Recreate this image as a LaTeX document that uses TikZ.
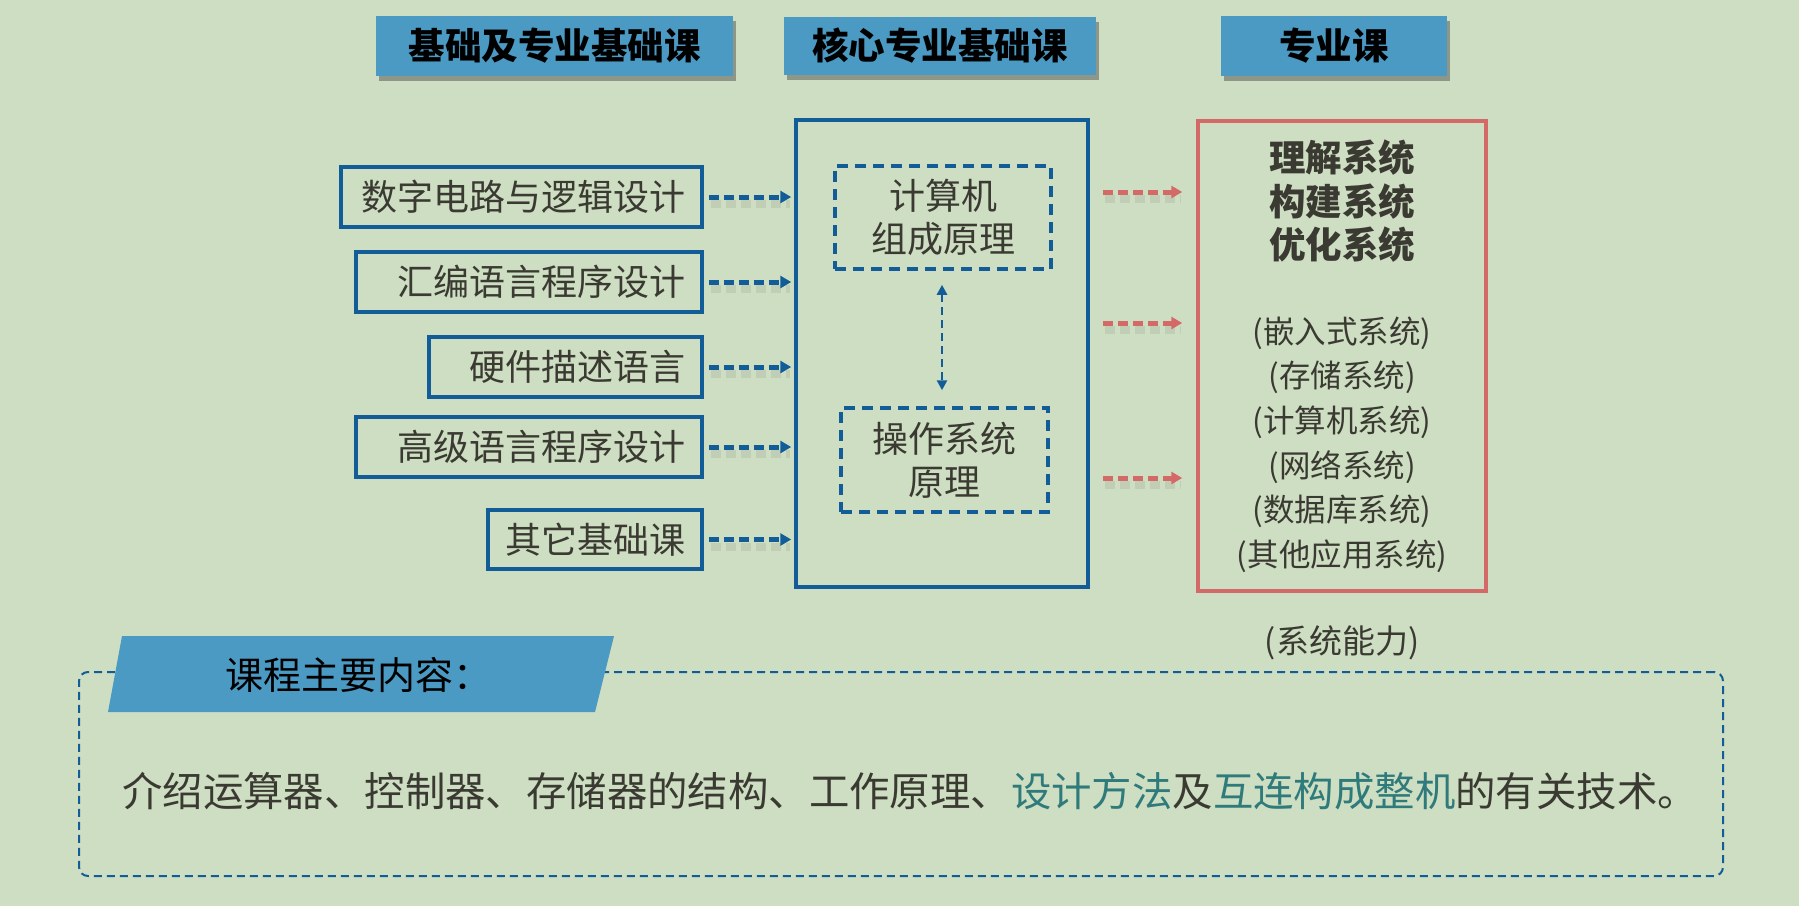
\documentclass[tikz,border=0pt]{standalone}
\usepackage{fontspec}
\setmainfont{Noto Sans CJK SC}
\usetikzlibrary{arrows.meta,shadows,calc}
\definecolor{bg}{HTML}{CEDEC2}
\definecolor{hdr}{HTML}{4A9AC4}
\definecolor{dblue}{HTML}{125D97}
\definecolor{rred}{HTML}{D46A68}
\definecolor{txt}{HTML}{3A3A32}
\definecolor{hltxt}{HTML}{2F7B7B}
\definecolor{shd}{HTML}{7F8A78}
\begin{document}
\begin{tikzpicture}[x=1pt,y=-1pt,
  hdrbox/.style={fill=hdr, draw=none, inner sep=0pt, text=black,
    font=\fontsize{36.5}{40}\selectfont\bfseries,
    drop shadow={shadow xshift=3pt, shadow yshift=-5pt, opacity=0.45, fill=black!75}},
  lbox/.style={draw=dblue, line width=3.5pt, inner xsep=17pt, inner ysep=0pt,
    minimum height=60pt, align=right, text=txt, font=\fontsize{36}{40}\selectfont},
  dbox/.style={draw=dblue, line width=3.5pt, dash pattern=on 11pt off 7pt,
    inner sep=0pt, align=center, text=txt, font=\fontsize{36}{43}\selectfont},
  ashadow/.style={draw=shd, line width=8pt, opacity=0.18, dash pattern=on 10pt off 5pt,
    transform canvas={xshift=2pt,yshift=-7pt}},
  barrow/.style={draw=dblue, line width=5pt, dash pattern=on 10pt off 5pt,
    -{Triangle[length=11pt,width=12pt]}},
  rarrow/.style={draw=rred, line width=5pt, dash pattern=on 10pt off 5pt,
    -{Triangle[length=11pt,width=12pt]}},
  plain/.style={inner sep=0pt, text=txt}
]
\fill[bg] (0,0) rectangle (1799,906);
\useasboundingbox (0,0) rectangle (1799,906);

% headers
\node[hdrbox, minimum width=357pt, minimum height=60pt] (h1) at (554.5,46) {基础及专业基础课};
\node[hdrbox, minimum width=312pt, minimum height=58pt] (h2) at (940,46) {核心专业基础课};
\node[hdrbox, minimum width=226pt, minimum height=60pt] (h3) at (1334,46) {专业课};

% left boxes
\node[lbox, text width=327pt] (b1) at (521.5,197) {数字电路与逻辑设计};
\node[lbox, text width=312pt] (b2) at (529,282) {汇编语言程序设计};
\node[lbox, text width=239pt] (b3) at (565.5,367) {硬件描述语言};
\node[lbox, text width=312pt] (b4) at (529,447) {高级语言程序设计};
\node[lbox, text width=180pt, minimum height=59pt] (b5) at (595,539.5) {其它基础课};

% core box
\node[draw=dblue, line width=3.5pt, minimum width=292pt, minimum height=467pt, inner sep=0pt] (core) at (942,353.5) {};
\node[dbox, minimum width=216pt, minimum height=103pt] (c1) at (943,217.5) {计算机\\组成原理};
\node[dbox, minimum width=207pt, minimum height=104pt] (c2) at (944.5,460) {操作系统\\原理};

% red box
\node[draw=rred, line width=3.5pt, minimum width=288pt, minimum height=470pt, inner sep=0pt] (red) at (1342,356) {};
\node[plain, align=center, font=\fontsize{36.5}{43.5}\selectfont\bfseries] (goals) at (1342,201.5) {理解系统\\构建系统\\优化系统};
\node[plain, align=center, font=\fontsize{31.5}{44.6}\selectfont] (kinds) at (1342,444.5) {(嵌入式系统)\\(存储系统)\\(计算机系统)\\(网络系统)\\(数据库系统)\\(其他应用系统)};
\node[plain, font=\fontsize{33}{36}\selectfont] (ability) at (1342,643) {(系统能力)};

% blue arrows (shadow first, then arrow)
\foreach \b in {b1,b2,b3,b4,b5}{
  \draw[ashadow, shorten <=5pt, shorten >=6pt] (\b.east) -- (\b.east -| core.west);
  \draw[barrow, shorten <=5pt, shorten >=3pt] (\b.east) -- (\b.east -| core.west);
}

% double arrow
\draw[dblue, line width=2.5pt, dash pattern=on 8pt off 5pt,
  {Triangle[length=10pt,width=10pt]}-{Triangle[length=10pt,width=10pt]},
  shorten <=14pt, shorten >=16pt] (c1.south -| 942,0) -- (c2.north -| 942,0);

% red arrows
\coordinate (r1) at (0,192);
\coordinate (r2) at (0,323);
\coordinate (r3) at (0,478);
\foreach \r in {r1,r2,r3}{
  \draw[ashadow, shorten <=13pt, shorten >=17pt] (core.east |- \r) -- (red.west |- \r);
  \draw[rarrow, shorten <=13pt, shorten >=14pt] (core.east |- \r) -- (red.west |- \r);
}

% bottom content
\node[draw=dblue, line width=2pt, dash pattern=on 8pt off 5pt, rounded corners=9pt,
  minimum width=1644pt, minimum height=204pt, inner sep=0pt] (content) at (901,774) {};
\fill[hdr] (122,636) -- (614,636) -- (595,712) -- (108,712) -- cycle;
\node[anchor=west, inner sep=0pt, text=black, font=\fontsize{38}{40}\selectfont] (ttl) at (225,675) {课程主要内容：};
\node[anchor=west, plain, font=\fontsize{40.4}{44}\selectfont] (desc) at (122,791)
  {介绍运算器、控制器、存储器的结构、工作原理、{\color{hltxt}设计方法}及{\color{hltxt}互连构成整机}的有关技术。};
\end{tikzpicture}
\end{document}
